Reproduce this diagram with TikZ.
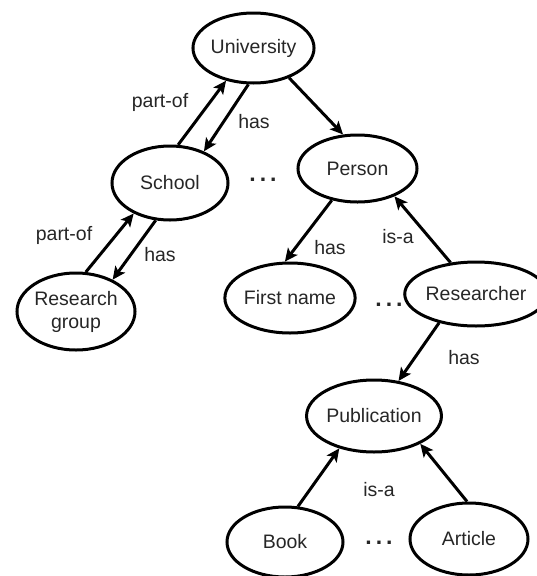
\documentclass[tikz,border=0pt]{standalone}
\usepackage{fontspec}
\setmainfont{Liberation Sans}
\usetikzlibrary{arrows.meta,shapes.geometric}
\begin{document}
\begin{tikzpicture}[x=1pt,y=-1pt,
  every node/.style={font=\fontsize{19.5}{23}\selectfont, text=black!85},
  concept/.style={ellipse, draw=black, line width=3pt, inner sep=0pt, align=center},
  lbl/.style={inner sep=0pt},
  arr/.style={line width=3pt, -{Stealth[length=13pt,width=12pt,inset=3pt]}},
  dotsnode/.style={inner sep=0pt, font=\fontsize{23}{23}\selectfont\bfseries}
]
\useasboundingbox (0,0) rectangle (536,576);

\node[concept, minimum width=117pt, minimum height=70pt] (univ) at (253.5,48) {University};
\node[concept, minimum width=116pt, minimum height=74pt] (school) at (170,183) {School};
\node[concept, minimum width=119pt, minimum height=67pt] (person) at (357.5,168.5) {Person};
\node[concept, minimum width=116pt, minimum height=70pt] (fname) at (290,298) {First name};
\node[concept, minimum width=112pt, minimum height=64pt] (researcher) at (476,294) {Researcher};
\node[concept, minimum width=118pt, minimum height=77pt] (rgroup) at (76,311.5) {Research\\group};
\node[concept, minimum width=118pt, minimum height=72pt] (pub) at (374,416) {Publication};
\node[concept, minimum width=116pt, minimum height=70pt] (book) at (285,542) {Book};
\node[concept, minimum width=118pt, minimum height=72pt] (article) at (469,539) {Article};

\node[dotsnode] (dots1) at (263,180) {.\hspace{4pt}.\hspace{4pt}.};
\node[dotsnode] (dots2) at (389,305) {.\hspace{4pt}.\hspace{4pt}.};
\node[dotsnode] (dots3) at (379,543) {.\hspace{4pt}.\hspace{4pt}.};

\draw[arr] (school.78) -- (univ.230);
\draw[arr] (univ.262) -- (school.43);
\draw[arr] (univ.320) -- (person.113);
\draw[arr] (rgroup.76) -- (school.220);
\draw[arr] (school.249) -- (rgroup.41.6);
\draw[arr] (person.231.5) -- (fname.98);
\draw[arr] (researcher.129) -- (person.323);
\draw[arr] (researcher.218) -- (pub.55);
\draw[arr] (book.70.6) -- (pub.223);
\draw[arr] (article.93) -- (pub.329);

\node[lbl] (l1) at (160,102) {part-of};
\node[lbl] (l2) at (254,122) {has};
\node[lbl] (l3) at (64,235) {part-of};
\node[lbl] (l4) at (160,255) {has};
\node[lbl] (l5) at (330,248) {has};
\node[lbl] (l6) at (398,237) {is-a};
\node[lbl] (l7) at (464,358) {has};
\node[lbl] (l8) at (379,490) {is-a};
\end{tikzpicture}
\end{document}
